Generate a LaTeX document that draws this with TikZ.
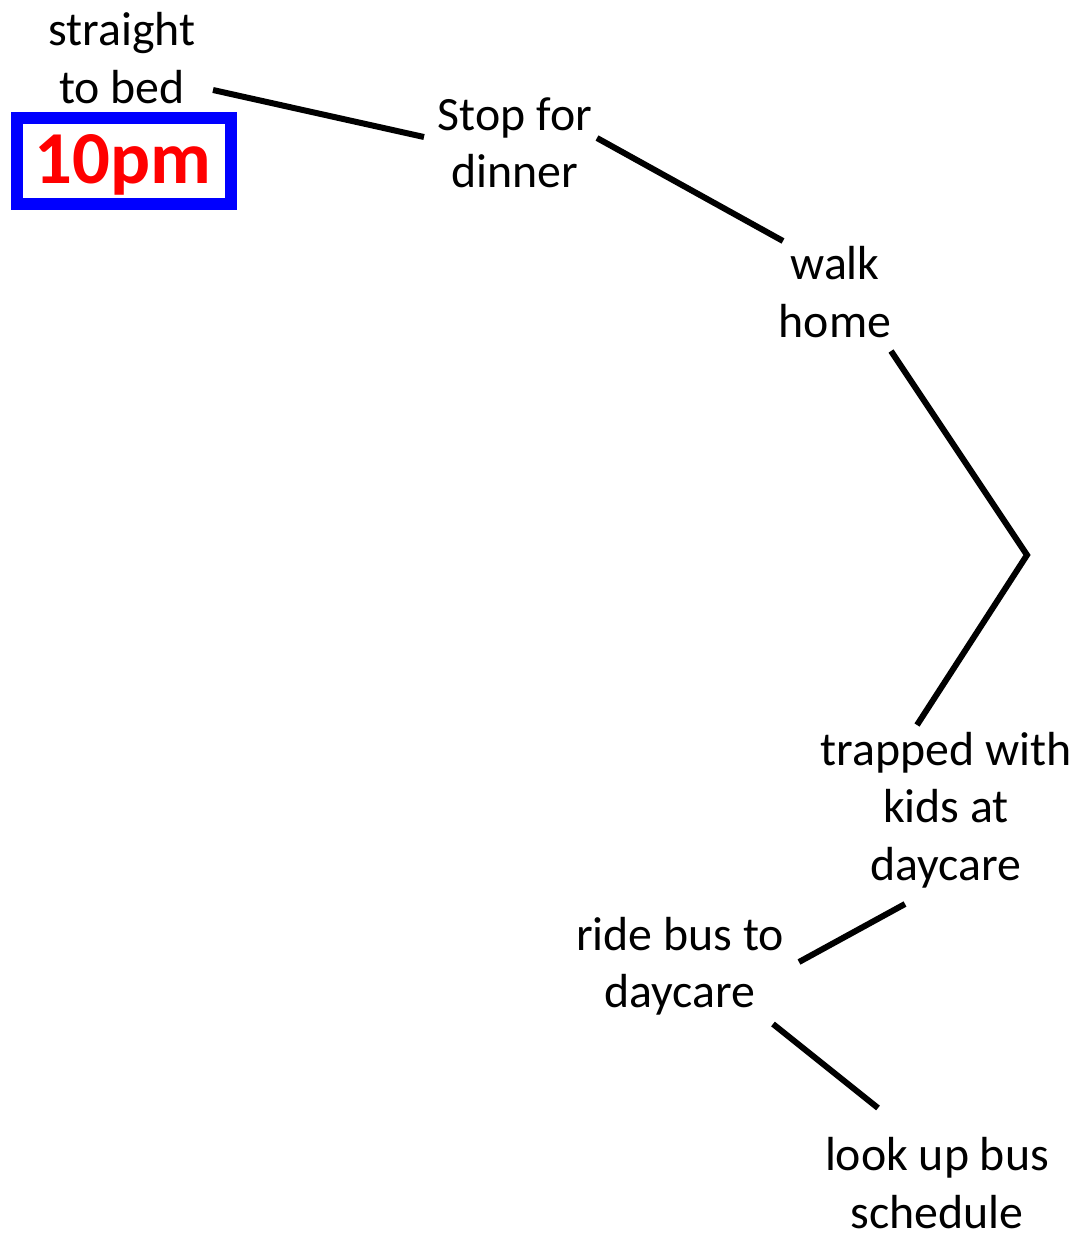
\documentclass[tikz,border=0pt]{standalone}
\usepackage{fontspec}
\setmainfont{Carlito}
\begin{document}
\begin{tikzpicture}[x=1bp,y=-1bp,
  lbl/.style={align=center,inner sep=0pt,font=\fontsize{48}{57.5}\selectfont},
  conn/.style={line width=6bp,line cap=butt}]
\useasboundingbox (0,0) rectangle (1078,1239);
\node[lbl] (bed) at (122,58) {straight\\to bed};
\node[draw=blue,line width=12bp,minimum width=214bp,minimum height=86bp,inner sep=0pt] (ten) at (123.7,161) {};
\node[anchor=base,inner sep=0pt,text=red,font=\fontsize{75}{80}\selectfont\bfseries] (tenlbl) at (123,183) {10pm};
\node[lbl] (dinner) at (515,143) {Stop for\\dinner};
\node[lbl] (walk) at (835,292) {walk\\home};
\node[lbl] (trap) at (946,810) {trapped with\\kids at\\daycare};
\node[lbl] (ride) at (680,966) {ride bus to\\daycare};
\node[lbl] (look) at (937,1183) {look up bus\\schedule};
\coordinate (a1) at (213,90);
\coordinate (a2) at (424,137);
\coordinate (b1) at (597,138);
\coordinate (b2) at (783,241);
\coordinate (c1) at (891,351);
\coordinate (c2) at (1027,555);
\coordinate (c3) at (917,725);
\coordinate (d1) at (905,904);
\coordinate (d2) at (799,962);
\coordinate (e1) at (773,1024);
\coordinate (e2) at (878,1108);
\draw[conn] (a1) -- (a2);
\draw[conn] (b1) -- (b2);
\draw[conn,line join=miter] (c1) -- (c2) -- (c3);
\draw[conn] (d1) -- (d2);
\draw[conn] (e1) -- (e2);
\end{tikzpicture}
\end{document}
